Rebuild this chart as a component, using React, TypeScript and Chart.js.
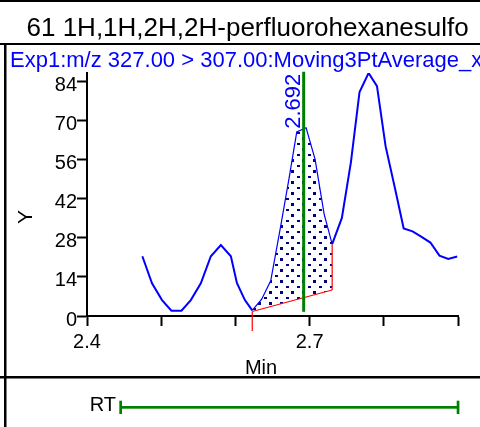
import React, { useEffect, useRef } from 'react';
import { Chart, registerables } from 'chart.js';

Chart.register(...registerables);

// ---- text ----
const chartTitle = '61 1H,1H,2H,2H-perfluorohexanesulfo';
const traceLabel = 'Exp1:m/z 327.00 > 307.00:Moving3PtAverage_x';
const xAxisTitle = 'Min';
const yAxisTitle = 'Y';
const rtLabel = 'RT';

// ---- data ----
const timeMin = [
  2.4746, 2.4876, 2.5011, 2.5138, 2.5273, 2.5399, 2.5534, 2.5669, 2.5804, 2.5939,
  2.602, 2.6128, 2.6227, 2.6354, 2.6476, 2.6608, 2.6723, 2.6827, 2.6953, 2.7074,
  2.7196, 2.7304, 2.7435, 2.7557, 2.7673, 2.7795, 2.7908, 2.8024, 2.8149, 2.8268,
  2.8388, 2.8509, 2.8628, 2.875, 2.8869, 2.8989,
];
const intensity = [
  21.4, 11.7, 5.7, 1.9, 1.9, 5.7, 11.7, 21.4, 25.4, 21.4,
  11.8, 5.7, 2.0, 6.0, 12.6, 31.8, 49.3, 65.9, 67.4, 56.1,
  36.5, 25.7, 35.1, 55.1, 80.2, 87.0, 82.3, 60.8, 45.9, 31.3,
  30.3, 28.3, 26.3, 21.6, 20.4, 21.3,
];
const xTicks = [2.4, 2.5, 2.6, 2.7, 2.8, 2.9];
const xTickLabels = ['2.4', '', '', '2.7', '', ''];
const yTicks = [0, 14, 28, 42, 56, 70, 84];
const yTickLabels = ['0', '14', '28', '42', '56', '70', '84'];
const xMin = 2.4;
const xMax = 2.9;
const yMin = 0;
const yMax = 87;

const peakRT = 2.692;
const peakRTLabel = '2.692';
const peakStartIdx = 12;
const peakEndIdx = 21;
const baselineStartY = 1.6;
const baselineEndY = 9.3;
const startMarkerBottom = -5.4;
const rtLineBottom = 1.5;
const rtLineTop = 87.45;
const rtWindow = [2.4453, 2.9];

const FONT = '"Liberation Sans", Arial, sans-serif';

export default function App() {
  const ref = useRef<HTMLCanvasElement | null>(null);

  useEffect(() => {
    const canvas = ref.current;
    if (!canvas) return;

    const pc = document.createElement('canvas');
    pc.width = 11;
    pc.height = 11;
    const pctx = pc.getContext('2d')!;
    pctx.fillStyle = '#000080';
    pctx.fillRect(0, 0, 3, 2);
    pctx.fillRect(5, 5, 3, 3);
    const ctx0 = canvas.getContext('2d')!;
    const pattern = ctx0.createPattern(pc, 'repeat');

    const curve = timeMin.map((x, i) => ({ x, y: intensity[i] }));
    const peakPts = curve.slice(peakStartIdx, peakEndIdx + 1);
    const x0 = timeMin[peakStartIdx];
    const x1 = timeMin[peakEndIdx];

    const decor = {
      id: 'decor',
      beforeDraw(chart: any) {
        const c = chart.ctx;
        c.save();
        c.fillStyle = '#fff';
        c.fillRect(0, 0, chart.width, chart.height);
        c.restore();
      },
      afterDraw(chart: any) {
        const c = chart.ctx;
        const xs = chart.scales.x;
        const ys = chart.scales.y;
        c.save();
        // frame lines
        c.fillStyle = '#000';
        c.fillRect(0, 0, 480, 2);
        c.fillRect(0, 43, 480, 2);
        c.fillRect(4, 43, 2.5, 384);
        c.fillRect(0, 376, 480, 2.5);

        // title
        c.fillStyle = '#000';
        c.font = `26px ${FONT}`;
        c.textAlign = 'left';
        c.textBaseline = 'alphabetic';
        c.fillText(chartTitle, 26.5, 35.5);

        // trace label
        c.fillStyle = '#0000ff';
        c.font = `22px ${FONT}`;
        c.fillText(traceLabel, 10, 66.5);

        // axis titles
        c.fillStyle = '#000';
        c.font = `20px ${FONT}`;
        c.textAlign = 'center';
        c.fillText(xAxisTitle, 261, 374);

        c.save();
        c.translate(31.5, 217);
        c.rotate(-Math.PI / 2);
        c.font = `21px ${FONT}`;
        c.textAlign = 'center';
        c.fillText(yAxisTitle, 0, 0);
        c.restore();

        // peak RT label
        const px = xs.getPixelForValue(peakRT);
        const peakMax = Math.max(...peakPts.map((p) => p.y));
        c.save();
        c.translate(px - 3.5, ys.getPixelForValue(peakMax) + 1);
        c.rotate(-Math.PI / 2);
        c.fillStyle = '#0000ff';
        c.font = `22px ${FONT}`;
        c.textAlign = 'left';
        c.fillText(peakRTLabel, 0, 0);
        c.restore();

        // RT window bar
        c.fillStyle = '#000';
        c.font = `20px ${FONT}`;
        c.textAlign = 'right';
        c.fillText(rtLabel, 116, 410.5);
        const ra = xs.getPixelForValue(rtWindow[0]);
        const rb = xs.getPixelForValue(rtWindow[1]);
        c.fillStyle = '#008000';
        c.fillRect(ra, 406, rb - ra, 2.7);
        c.fillRect(ra - 1.3, 400.7, 2.7, 13.3);
        c.fillRect(rb - 1.3, 400.7, 2.7, 13.3);
        c.restore();
      },
    };

    const chart = new Chart(canvas, {
      type: 'line',
      data: {
        datasets: [
          {
            data: [
              { x: peakRT, y: rtLineBottom },
              { x: peakRT, y: rtLineTop },
            ],
            borderColor: '#008000',
            borderWidth: 3,
            pointRadius: 0,
            fill: false,
            clip: false as any,
          },
          {
            data: curve,
            borderColor: '#0000ff',
            borderWidth: 2,
            pointRadius: 0,
            fill: false,
            segment: {
              borderWidth: (ctx: any) =>
                ctx.p0.parsed.x >= x0 - 1e-6 && ctx.p1.parsed.x <= x1 + 1e-6 ? 1.2 : 2,
            },
          },
          {
            data: [
              { x: x0, y: baselineStartY },
              { x: x1, y: baselineEndY },
            ],
            borderColor: '#ff0000',
            borderWidth: 1.2,
            pointRadius: 0,
            fill: false,
          },
          {
            data: [
              { x: x0, y: baselineStartY },
              { x: x0, y: startMarkerBottom },
            ],
            borderColor: '#ff0000',
            borderWidth: 1.2,
            pointRadius: 0,
            fill: false,
            clip: false as any,
          },
          {
            data: [
              { x: x1, y: baselineEndY },
              { x: x1, y: intensity[peakEndIdx] },
            ],
            borderColor: '#ff0000',
            borderWidth: 1.2,
            pointRadius: 0,
            fill: false,
          },
          {
            data: peakPts,
            borderColor: 'rgba(0,0,0,0)',
            borderWidth: 0,
            pointRadius: 0,
            backgroundColor: pattern as any,
            fill: { target: 2 },
          },
        ],
      },
      options: {
        responsive: false,
        animation: false,
        events: [],
        layout: { padding: { left: 0, top: 73, right: 22, bottom: 0 } },
        plugins: {
          legend: { display: false },
          tooltip: { enabled: false },
          title: { display: false },
        },
        scales: {
          x: {
            type: 'linear',
            min: xMin,
            max: xMax,
            afterBuildTicks: (s: any) => {
              s.ticks = xTicks.map((v) => ({ value: v }));
            },
            afterFit: (s: any) => {
              s.height = 111;
            },
            ticks: {
              autoSkip: false,
              maxRotation: 0,
              color: '#000',
              padding: 4,
              font: { family: FONT, size: 20 },
              callback: (v: any) => {
                const i = xTicks.findIndex((t) => Math.abs(t - Number(v)) < 1e-6);
                return i >= 0 ? xTickLabels[i] : '';
              },
            },
            grid: {
              drawOnChartArea: false,
              drawTicks: true,
              tickLength: 10,
              tickWidth: 2,
              tickColor: '#000',
            },
            border: { display: true, color: '#000', width: 2 },
          },
          y: {
            type: 'linear',
            min: yMin,
            max: yMax,
            afterBuildTicks: (s: any) => {
              s.ticks = yTicks.map((v) => ({ value: v }));
            },
            afterFit: (s: any) => {
              s.width = 87;
            },
            ticks: {
              autoSkip: false,
              color: '#000',
              padding: 0,
              labelOffset: 4,
              font: { family: FONT, size: 20 },
              callback: (v: any) => {
                const i = yTicks.findIndex((t) => Math.abs(t - Number(v)) < 1e-6);
                return i >= 0 ? yTickLabels[i] : '';
              },
            },
            grid: {
              drawOnChartArea: false,
              drawTicks: true,
              tickLength: 10,
              tickWidth: 2,
              tickColor: '#000',
            },
            border: { display: true, color: '#000', width: 2 },
          },
        },
      },
      plugins: [decor],
    } as any);

    return () => chart.destroy();
  }, []);

  return (
    <div style={{ position: 'fixed', left: 0, top: 0, width: 480, height: 427, background: '#fff' }}>
      <canvas ref={ref} width={480} height={427} style={{ display: 'block' }} />
    </div>
  );
}
